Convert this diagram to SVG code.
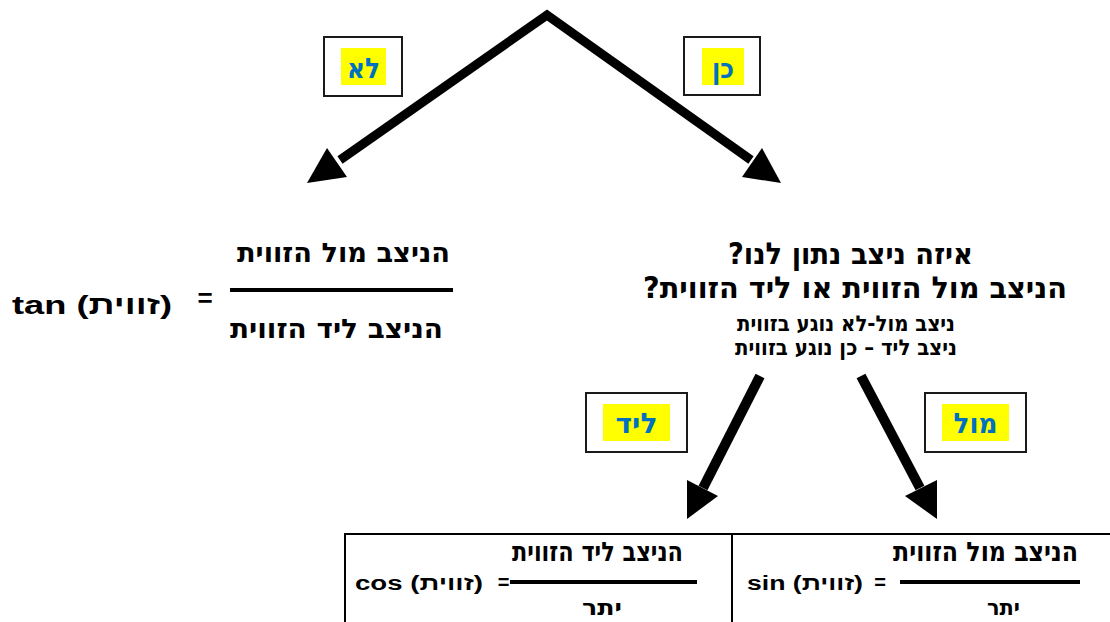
<svg xmlns="http://www.w3.org/2000/svg" width="1110" height="622" viewBox="0 0 1110 622">
<style>
  text { font-family: "Liberation Sans", "DejaVu Sans", sans-serif; font-weight: bold; fill: #000; }
  .he { font-family: "DejaVu Sans", "Liberation Sans", sans-serif; direction: rtl; unicode-bidi: embed; }
  .mix { font-family: "Liberation Sans", "DejaVu Sans", sans-serif; }
  .lbl { fill: #0070C0; font-size: 28px; text-anchor: middle; }
  .box { fill: #fff; stroke: #1a1a1a; stroke-width: 2; }
  .hl { fill: #FFFF00; }
  .arrow { fill: none; stroke: #000; stroke-linecap: butt; stroke-linejoin: miter; }
  .head { fill: #000; }
  .bar { stroke: #000; stroke-width: 4; }
  .cell { fill: #fff; stroke: #000; stroke-width: 2; }
</style>

<g id="connectors">
  <polyline class="arrow" stroke-width="9" points="340,160 547,15 751,160"/>
  <polygon class="head" points="307,183 327,148 347,177"/>
  <polygon class="head" points="781,183 762,148 742,177"/>
  <line class="arrow" stroke-width="10" x1="760" y1="376" x2="703" y2="488"/>
  <polygon class="head" points="687,519 687,480 718,496"/>
  <line class="arrow" stroke-width="10" x1="861" y1="376" x2="920" y2="488"/>
  <polygon class="head" points="937,519 937,480 905,496"/>
</g>

<g id="label-no">
  <rect class="box" x="324" y="37" width="78" height="59"/>
  <rect class="hl" x="341" y="48" width="45" height="37"/>
  <text class="lbl he" x="363.5" y="78" textLength="33" lengthAdjust="spacingAndGlyphs">לא</text>
</g>

<g id="label-yes">
  <rect class="box" x="684" y="37" width="76" height="58"/>
  <rect class="hl" x="702" y="48" width="42" height="37"/>
  <text class="lbl he" x="723" y="78" textLength="22" lengthAdjust="spacingAndGlyphs">כן</text>
</g>

<g id="tan-formula">
  <text class="mix" x="92" y="314" font-size="26" text-anchor="middle" textLength="160" lengthAdjust="spacingAndGlyphs">tan (זווית)</text>
  <text x="205" y="307" font-size="26" text-anchor="middle">=</text>
  <line class="bar" x1="230" y1="290" x2="453" y2="290"/>
  <text class="he" x="343.5" y="262" font-size="27" text-anchor="middle" textLength="213" lengthAdjust="spacingAndGlyphs">הניצב מול הזווית</text>
  <text class="he" x="336.5" y="338" font-size="27" text-anchor="middle" textLength="213" lengthAdjust="spacingAndGlyphs">הניצב ליד הזווית</text>
</g>

<g id="question">
  <text class="he" x="850.5" y="264" font-size="30" text-anchor="middle" textLength="245" lengthAdjust="spacingAndGlyphs">איזה ניצב נתון לנו?</text>
  <text class="he" x="855" y="298" font-size="30" text-anchor="middle" textLength="424" lengthAdjust="spacingAndGlyphs">הניצב מול הזווית או ליד הזווית?</text>
  <text class="he" x="846" y="331" font-size="22" text-anchor="middle" textLength="218" lengthAdjust="spacingAndGlyphs">ניצב מול-לא נוגע בזווית</text>
  <text class="he" x="846" y="355" font-size="22" text-anchor="middle" textLength="222" lengthAdjust="spacingAndGlyphs">ניצב ליד – כן נוגע בזווית</text>
</g>

<g id="label-adjacent">
  <rect class="box" x="586" y="393" width="101" height="59"/>
  <rect class="hl" x="603" y="404" width="67" height="37"/>
  <text class="lbl he" x="636.5" y="433" textLength="42" lengthAdjust="spacingAndGlyphs">ליד</text>
</g>

<g id="label-opposite">
  <rect class="box" x="925" y="393" width="101" height="59"/>
  <rect class="hl" x="942" y="404" width="67" height="37"/>
  <text class="lbl he" x="975.5" y="433" textLength="44" lengthAdjust="spacingAndGlyphs">מול</text>
</g>

<g id="table">
  <rect class="cell" x="345" y="534" width="780" height="100"/>
  <line stroke="#000" stroke-width="2" x1="732" y1="534" x2="732" y2="630"/>
</g>

<g id="cos-formula">
  <text class="he" x="597.5" y="561" font-size="27" text-anchor="middle" textLength="171" lengthAdjust="spacingAndGlyphs">הניצב ליד הזווית</text>
  <text class="mix" x="419" y="590" font-size="20" text-anchor="middle" textLength="128" lengthAdjust="spacingAndGlyphs">cos (זווית)</text>
  <text x="503.5" y="589" font-size="20" text-anchor="middle">=</text>
  <line class="bar" x1="510" y1="582" x2="697" y2="582"/>
  <text class="he" x="602" y="615" font-size="22" text-anchor="middle" textLength="40" lengthAdjust="spacingAndGlyphs">יתר</text>
</g>

<g id="sin-formula">
  <text class="he" x="985.5" y="561" font-size="27" text-anchor="middle" textLength="185" lengthAdjust="spacingAndGlyphs">הניצב מול הזווית</text>
  <text class="mix" x="805" y="590" font-size="20" text-anchor="middle" textLength="116" lengthAdjust="spacingAndGlyphs">sin (זווית)</text>
  <text x="880" y="589" font-size="20" text-anchor="middle">=</text>
  <line class="bar" x1="900" y1="582" x2="1080" y2="582"/>
  <text class="he" x="1003.5" y="615" font-size="22" text-anchor="middle" textLength="33" lengthAdjust="spacingAndGlyphs">יתר</text>
</g>
</svg>
